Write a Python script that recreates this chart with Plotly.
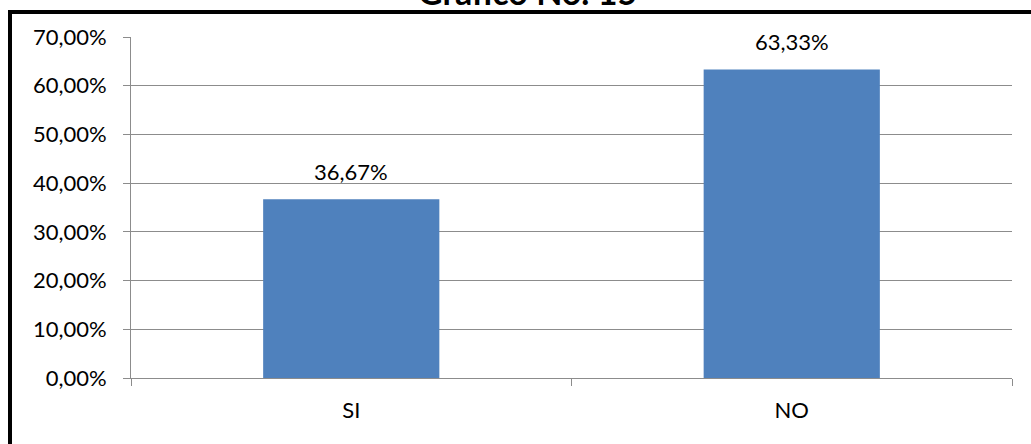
import plotly.graph_objects as go

categories = ["SI", "NO"]
values = [36.67, 63.33]
value_labels = ["36,67%", "63,33%"]
title_text = "Gráfico No. 15"

FONT = "Lato"
L, R, T, B = 131, 19, 37, 66
W, H = 1031, 444
pw, ph = W - L - R, H - T - B


def px_x(x):
    return (x - L) / pw


def px_y(y):
    return 1 - (y - T) / ph


fig = go.Figure(
    go.Bar(
        x=categories,
        y=values,
        width=0.4,
        marker=dict(color="#4F81BD", line=dict(width=0)),
    )
)

# value labels above each bar
for cat, val, lab in zip(categories, values, value_labels):
    fig.add_annotation(
        x=cat,
        y=val,
        text=lab,
        showarrow=False,
        xanchor="center",
        yanchor="bottom",
        yshift=12,
        font=dict(family=FONT, size=22, color="#000000"),
    )

fig.update_layout(
    width=W,
    height=H,
    margin=dict(l=L, r=R, t=T, b=B),
    paper_bgcolor="white",
    plot_bgcolor="white",
    separators=",.",
    showlegend=False,
    font=dict(family=FONT, size=22, color="#000000"),
)

fig.update_yaxes(
    range=[0, 70],
    dtick=10,
    tickformat=".2f",
    ticksuffix="%",
    showgrid=True,
    gridcolor="#8C8C8C",
    gridwidth=1,
    showline=True,
    linecolor="#8C8C8C",
    linewidth=1,
    ticks="outside",
    ticklen=7,
    tickcolor="#8C8C8C",
    zeroline=False,
    tickfont=dict(family=FONT, size=22, color="#000000"),
    ticklabelstandoff=12,
)

fig.update_xaxes(
    showline=True,
    linecolor="#8C8C8C",
    linewidth=1,
    ticks="outside",
    ticklen=7,
    tickcolor="#8C8C8C",
    tickson="boundaries",
    showgrid=False,
    tickfont=dict(family=FONT, size=22, color="#000000"),
    ticklabelstandoff=13,
)

# outer chart frame
fig.add_shape(
    type="rect",
    xref="paper",
    yref="paper",
    x0=px_x(10),
    x1=px_x(1100),
    y0=px_y(600),
    y1=px_y(12),
    line=dict(color="#000000", width=4),
    fillcolor="rgba(0,0,0,0)",
    layer="below",
)

fig.add_annotation(
    text=f"<b>{title_text}</b>",
    xref="paper",
    yref="paper",
    x=px_x(527),
    y=px_y(14),
    xanchor="center",
    yanchor="bottom",
    showarrow=False,
    font=dict(family=FONT, size=34, color="#000000"),
)

fig.write_html("out.html")
